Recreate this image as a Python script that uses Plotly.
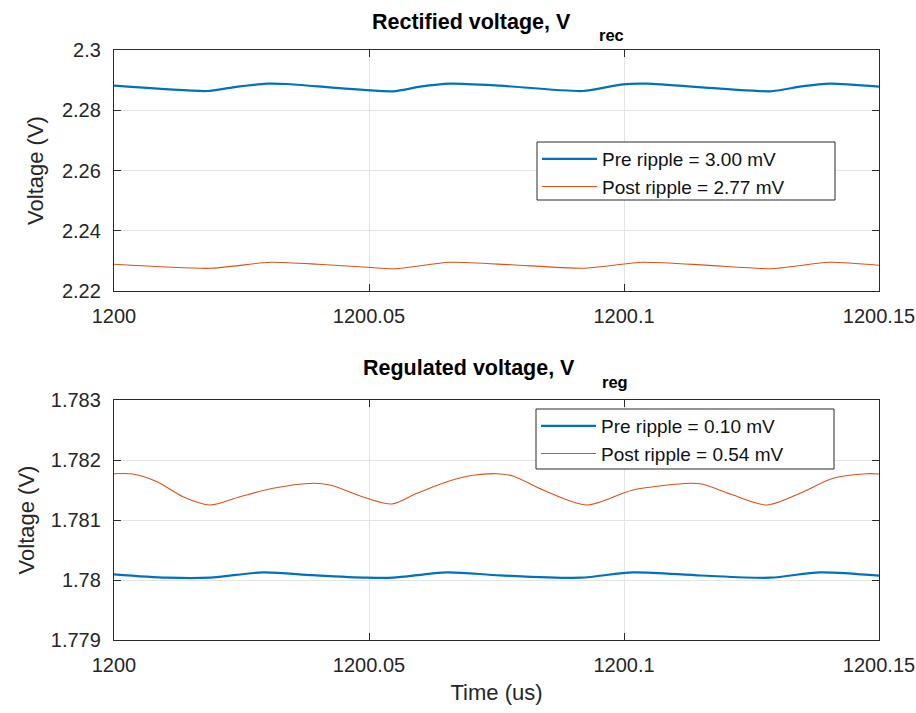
import plotly.graph_objects as go

# ---- rectified voltage (top panel) ----
t_rec_pre = [1200.0, 1200.018235, 1200.023333, 1200.030000, 1200.033922, 1200.054706,
             1200.060000, 1200.065882, 1200.075686, 1200.091961, 1200.099804, 1200.104510,
             1200.128627, 1200.134510, 1200.140392, 1200.15]
v_rec_pre = [2.288149, 2.286390, 2.287618, 2.288813, 2.288714, 2.286290,
             2.287817, 2.288813, 2.288149, 2.286390, 2.288614, 2.288813,
             2.286290, 2.287817, 2.288813, 2.287817]

t_rec_post = [1200.0, 1200.018824, 1200.030588, 1200.040000, 1200.049804, 1200.055098,
              1200.065882, 1200.078000, 1200.091961, 1200.103725, 1200.116000, 1200.128627,
              1200.140392, 1200.15]
v_rec_post = [2.228863, 2.227535, 2.229527, 2.228900, 2.227867, 2.227403,
              2.229527, 2.228700, 2.227535, 2.229527, 2.228600, 2.227403,
              2.229527, 2.228531]

# ---- regulated voltage (bottom panel) ----
t_reg_pre = [1200.0, 1200.010392, 1200.018824, 1200.029216, 1200.039000, 1200.049608,
             1200.054706, 1200.065294, 1200.075686, 1200.091373, 1200.101765, 1200.115000,
             1200.128627, 1200.138431, 1200.15]
v_reg_pre = [1.780095, 1.780038, 1.780038, 1.780128, 1.780080, 1.780038,
             1.780038, 1.780128, 1.780078, 1.780038, 1.780128, 1.780075,
             1.780038, 1.780128, 1.780072]

t_reg_post = [1200.0, 1200.003725, 1200.008431, 1200.013529, 1200.018824, 1200.024706,
              1200.031176, 1200.039020, 1200.042353, 1200.049608, 1200.054510, 1200.059412,
              1200.065294, 1200.070392, 1200.075098, 1200.078235, 1200.084118, 1200.092745,
              1200.101765, 1200.112941, 1200.115490, 1200.121373, 1200.128039, 1200.134510,
              1200.140980, 1200.147647, 1200.15]
v_reg_post = [1.781772, 1.781767, 1.781638, 1.781388, 1.781250, 1.781388,
              1.781528, 1.781612, 1.781583, 1.781362, 1.781267, 1.781445,
              1.781638, 1.781745, 1.781772, 1.781733, 1.781500, 1.781250,
              1.781500, 1.781612, 1.781595, 1.781417, 1.781250, 1.781445,
              1.781695, 1.781772, 1.781767]

x_ticks = [1200, 1200.05, 1200.1, 1200.15]
x_tick_text = ["1200", "1200.05", "1200.1", "1200.15"]
y_rec_ticks = [2.22, 2.24, 2.26, 2.28, 2.3]
y_rec_text = ["2.22", "2.24", "2.26", "2.28", "2.3"]
y_reg_ticks = [1.779, 1.78, 1.781, 1.782, 1.783]
y_reg_text = ["1.779", "1.78", "1.781", "1.782", "1.783"]

leg_rec = ["Pre ripple = 3.00 mV", "Post ripple = 2.77 mV"]
leg_reg = ["Pre ripple = 0.10 mV", "Post ripple = 0.54 mV"]

BLUE = "#0072BD"
ORANGE = "#D95319"
AX = "#2b2b2b"
GRID = "#e4e4e4"
FONT = "Liberation Sans, Arial, sans-serif"
TICK_SIZE = 20
LABEL_SIZE = 22

fig = go.Figure()
fig.add_trace(go.Scatter(x=t_rec_pre, y=v_rec_pre, mode="lines", name=leg_rec[0],
                         line=dict(color=BLUE, width=2.2, shape="spline", smoothing=0.6),
                         xaxis="x", yaxis="y", legend="legend"))
fig.add_trace(go.Scatter(x=t_rec_post, y=v_rec_post, mode="lines", name=leg_rec[1],
                         line=dict(color=ORANGE, width=1.1, shape="spline", smoothing=0.6),
                         xaxis="x", yaxis="y", legend="legend"))
fig.add_trace(go.Scatter(x=t_reg_pre, y=v_reg_pre, mode="lines", name=leg_reg[0],
                         line=dict(color=BLUE, width=2.2, shape="spline", smoothing=0.8),
                         xaxis="x2", yaxis="y2", legend="legend2"))
fig.add_trace(go.Scatter(x=t_reg_post, y=v_reg_post, mode="lines", name=leg_reg[1],
                         line=dict(color=ORANGE, width=1.1, shape="spline", smoothing=0.8),
                         xaxis="x2", yaxis="y2", legend="legend2"))

W, H = 916, 713
x_dom = [114 / W, 879 / W]
top_dom = [1 - 291 / H, 1 - 50 / H]
bot_dom = [1 - 640 / H, 1 - 400 / H]

common_axis = dict(showline=True, linecolor=AX, linewidth=1.3, mirror="ticks",
                   ticks="inside", ticklen=7, tickcolor=AX, tickwidth=1,
                   showgrid=True, gridcolor=GRID, gridwidth=1, zeroline=False,
                   tickfont=dict(family=FONT, size=TICK_SIZE, color="#262626"),
                   automargin=False)
label_font = dict(family=FONT, size=LABEL_SIZE, color="#262626")

fig.update_layout(
    width=W, height=H,
    margin=dict(l=0, r=0, t=0, b=0),
    paper_bgcolor="white", plot_bgcolor="white",
    font=dict(family=FONT, color="#262626"),
    xaxis=dict(domain=x_dom, anchor="y", range=[1200, 1200.15],
               tickvals=x_ticks, ticktext=x_tick_text, ticklabelstandoff=7, **common_axis),
    yaxis=dict(domain=top_dom, anchor="x", range=[2.22, 2.3],
               tickvals=y_rec_ticks, ticktext=y_rec_text, ticklabelstandoff=8,
               title=dict(text="Voltage (V)", font=label_font, standoff=12),
               **common_axis),
    xaxis2=dict(domain=x_dom, anchor="y2", range=[1200, 1200.15],
                tickvals=x_ticks, ticktext=x_tick_text, ticklabelstandoff=7,
                title=dict(text="Time (us)", font=label_font, standoff=9),
                **common_axis),
    yaxis2=dict(domain=bot_dom, anchor="x2", range=[1.779, 1.783],
                tickvals=y_reg_ticks, ticktext=y_reg_text, ticklabelstandoff=8,
                title=dict(text="Voltage (V)", font=label_font, standoff=10),
                **common_axis),
    legend=dict(x=537 / W, y=1 - 140 / H, xanchor="left", yanchor="top",
                bgcolor="rgba(0,0,0,0)", borderwidth=0,
                font=dict(family=FONT, size=19, color="#111111"),
                tracegroupgap=0, itemwidth=55),
    legend2=dict(x=536 / W, y=1 - 407 / H, xanchor="left", yanchor="top",
                 bgcolor="rgba(0,0,0,0)", borderwidth=0,
                 font=dict(family=FONT, size=19, color="#111111"),
                 tracegroupgap=0, itemwidth=55),
    showlegend=True,
)

# Legend frames (white boxes with a dark outline behind each legend)
for (lx0, ly0, lx1, ly1) in [(537, 142, 835, 200), (536, 409, 834, 469)]:
    fig.add_shape(type="rect", xref="paper", yref="paper",
                  x0=lx0 / W, x1=lx1 / W, y0=1 - ly1 / H, y1=1 - ly0 / H,
                  fillcolor="white", line=dict(color=AX, width=1), layer="above")

# Panel titles with lowered subscripts
title_font = dict(family=FONT, size=21.5, color="#000000")
sub_font = dict(family=FONT, size=16.5, color="#000000")
fig.add_annotation(text="<b>Rectified voltage, V</b>", xref="paper", yref="paper",
                   x=573 / W, y=1 - 22 / H, xanchor="right", yanchor="middle",
                   showarrow=False, font=title_font)
fig.add_annotation(text="<b>rec</b>", xref="paper", yref="paper",
                   x=597 / W, y=1 - 35 / H, xanchor="left", yanchor="middle",
                   showarrow=False, font=sub_font)
fig.add_annotation(text="<b>Regulated voltage, V</b>", xref="paper", yref="paper",
                   x=577 / W, y=1 - 368 / H, xanchor="right", yanchor="middle",
                   showarrow=False, font=title_font)
fig.add_annotation(text="<b>reg</b>", xref="paper", yref="paper",
                   x=600 / W, y=1 - 382 / H, xanchor="left", yanchor="middle",
                   showarrow=False, font=sub_font)

fig.write_html("out.html")
